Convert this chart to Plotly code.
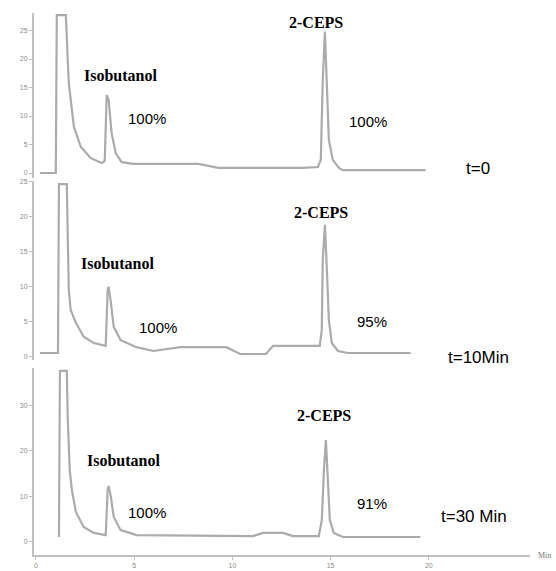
import plotly.graph_objects as go

W, H = 556, 571

# ---- data (retention time in min, detector signal) ----
t0_time = [0.20, 1.01, 1.06, 1.52, 1.67, 1.93, 2.28, 2.79, 3.35, 3.50, 3.60, 3.70, 3.85, 4.06, 4.36,
           4.97, 8.27, 9.28, 13.59, 14.35, 14.50, 14.60, 14.71, 14.81, 14.91, 15.11, 15.42, 15.62, 19.83]
t0_signal = [0.0, 0.0, 27.7, 27.7, 15.8, 8.1, 4.6, 2.6, 1.75, 2.1, 13.7, 12.8, 7.0, 3.5, 1.9,
             1.6, 1.6, 0.9, 0.9, 1.05, 2.3, 16.3, 24.8, 16.3, 5.8, 2.3, 0.9, 0.5, 0.5]

t10_time = [0.20, 1.12, 1.17, 1.57, 1.67, 1.77, 2.03, 2.43, 2.94, 3.45, 3.55, 3.65, 3.70, 3.80, 3.96,
            4.31, 5.12, 5.98, 7.35, 9.69, 10.40, 11.71, 12.07, 14.45, 14.55, 14.60, 14.71, 14.81,
            14.91, 15.06, 15.37, 15.87, 19.07]
t10_signal = [0.57, 0.57, 24.7, 24.7, 9.6, 6.7, 4.9, 2.9, 2.0, 1.6, 1.6, 9.6, 10.0, 8.1, 4.3,
              2.4, 1.4, 0.86, 1.4, 1.4, 0.43, 0.43, 1.6, 1.6, 3.9, 13.9, 18.9, 12.4,
              5.3, 2.0, 0.86, 0.57, 0.57]

t30_time = [1.17, 1.22, 1.57, 1.62, 1.72, 1.83, 2.03, 2.43, 2.94, 3.45, 3.55, 3.65, 3.70, 3.80, 3.96,
            4.31, 5.12, 11.05, 11.56, 12.58, 13.08, 14.40, 14.55, 14.66, 14.76, 14.86, 14.96,
            15.16, 15.62, 19.57]
t30_signal = [1.1, 37.6, 37.6, 26.8, 15.8, 11.4, 6.6, 3.3, 2.0, 1.5, 1.5, 11.4, 12.3, 10.3, 5.5,
              2.6, 1.5, 1.3, 2.0, 2.0, 1.3, 1.3, 4.8, 15.8, 22.4, 13.6, 4.8,
              2.0, 1.1, 1.1]

x_ticks = [0, 5, 10, 15, 20]
y1_ticks = [0, 5, 10, 15, 20, 25]
y2_ticks = [0, 5, 10, 15, 20, 25]
y3_ticks = [0, 10, 20, 30]

peak_label = "2-CEPS"
solvent_label = "Isobutanol"
pct_left = ["100%", "100%", "100%"]
pct_right = ["100%", "95%", "91%"]
time_labels = ["t=0", "t=10Min", "t=30 Min"]


def px(x):
    return x / W


def py(y):
    return 1 - y / H


LINE = dict(color="#ababab", width=2.2)
AX = "#c0c0c0"
TICKF = dict(family="Liberation Sans, Arial, sans-serif", size=7, color="#8a8a8a")

fig = go.Figure()
fig.add_trace(go.Scatter(x=t0_time, y=t0_signal, mode="lines", line=LINE, xaxis="x", yaxis="y", showlegend=False))
fig.add_trace(go.Scatter(x=t10_time, y=t10_signal, mode="lines", line=LINE, xaxis="x", yaxis="y2", showlegend=False))
fig.add_trace(go.Scatter(x=t30_time, y=t30_signal, mode="lines", line=LINE, xaxis="x", yaxis="y3", showlegend=False))

yax_common = dict(anchor="x", showgrid=False, zeroline=False, showline=True, linecolor=AX, linewidth=2,
                  ticks="outside", ticklen=3, tickcolor=AX, tickfont=TICKF, automargin=False)

fig.update_layout(
    width=W, height=H,
    margin=dict(l=0, r=0, t=0, b=0),
    paper_bgcolor="white", plot_bgcolor="white",
    xaxis=dict(domain=[34 / W, 530 / W], range=[-0.1, 25.15], anchor="y3",
               showgrid=False, zeroline=False, showline=True, linecolor=AX, linewidth=2,
               ticks="outside", ticklen=3, tickcolor=AX, tickvals=x_ticks, tickfont=TICKF, automargin=False),
    yaxis=dict(domain=[py(178), py(13)], range=[-0.877, 28.07], tickvals=y1_ticks, **yax_common),
    yaxis2=dict(domain=[py(360), py(181)], range=[-0.43, 25.14], tickvals=y2_ticks, **yax_common),
    yaxis3=dict(domain=[py(555), py(368)], range=[-2.86, 38.24], tickvals=y3_ticks, **yax_common),
)

SERIF = dict(family="Liberation Serif, Times New Roman, serif", size=16, color="black")
NARROW = dict(family="Liberation Sans, Arial, sans-serif", size=15, color="black")
TLAB = dict(family="Liberation Sans, Arial, sans-serif", size=17, color="black")

ann = []
def add(text, x, y, font):
    ann.append(dict(text=text, x=px(x), y=py(y), xref="paper", yref="paper", showarrow=False,
                    font=font, xanchor="center", yanchor="middle"))

# panel labels
for cx, cy in [(316, 23), (321, 212), (324, 415)]:
    add("<b>" + peak_label + "</b>", cx, cy, SERIF)
for cx, cy in [(120, 76), (117, 263), (123, 460)]:
    add("<b>" + solvent_label + "</b>", cx, cy, SERIF)
for t, (cx, cy) in zip(pct_left, [(147, 119), (158, 327), (147, 512)]):
    add(t, cx, cy, NARROW)
for t, (cx, cy) in zip(pct_right, [(368, 121), (372, 321), (372, 503)]):
    add(t, cx, cy, NARROW)
for t, (cx, cy) in zip(time_labels, [(478, 168), (478, 357), (474, 516)]):
    add(t, cx, cy, TLAB)
add("Min", 544, 555, dict(family="Liberation Serif, serif", size=8, color="#777777"))

fig.update_layout(annotations=ann)
fig.write_html("out.html", config={"displayModeBar": False},
               post_script="document.body.style.margin='0px';")
